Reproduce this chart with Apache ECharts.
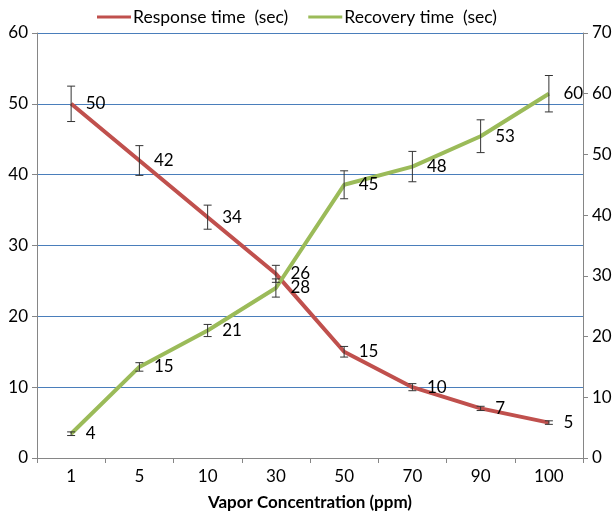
<!DOCTYPE html>
<html><head><meta charset="utf-8">
<script src="https://cdn.jsdelivr.net/npm/echarts@6/dist/echarts.min.js"></script>
<style>html,body{margin:0;padding:0;background:#fff}#c{width:615px;height:516px}</style>
</head><body><div id="c"></div>
<script>
var categories = ['1','5','10','30','50','70','90','100'];
var responseTime = [50,42,34,26,15,10,7,5];
var responseErr = [2.5,2.1,1.7,1.2,0.75,0.5,0.3,0.25];
var recoveryTime = [4,15,21,28,45,48,53,60];
var recoveryErr = [0.3,0.7,1.0,1.5,2.3,2.5,2.7,3.0];
var leftTicks = {min:0,max:60,interval:10};
var rightTicks = {min:0,max:70,interval:10};

var FONT = 'Lato';
function errData(vals, errs){ return vals.map(function(v,i){ return [i, v-errs[i], v+errs[i]]; }); }
function errRender(params, api){
  var x = api.value(0);
  var lo = api.coord([x, api.value(1)]);
  var hi = api.coord([x, api.value(2)]);
  var hw = 4;
  var st = {stroke:'#333', lineWidth:1};
  return {type:'group', children:[
    {type:'line', shape:{x1:lo[0],y1:lo[1],x2:hi[0],y2:hi[1]}, style:st},
    {type:'line', shape:{x1:lo[0]-hw,y1:lo[1],x2:lo[0]+hw,y2:lo[1]}, style:st},
    {type:'line', shape:{x1:hi[0]-hw,y1:hi[1],x2:hi[0]+hw,y2:hi[1]}, style:st}
  ]};
}
var chart = echarts.init(document.getElementById('c'));
var axisLabelStyle = {color:'#000', fontSize:17, fontFamily:FONT};
chart.setOption({
  animation:false,
  textStyle:{fontFamily:FONT},
  legend:{
    top:3, left:92, itemGap:20, itemWidth:34, itemHeight:3, icon:'rect',
    textStyle:{color:'#000', fontSize:17.5, fontFamily:FONT, padding:[0,0,0,-3]},
    data:['Response time  (sec)','Recovery time  (sec)']
  },
  grid:{left:37, right:32, top:33, bottom:52, containLabel:false},
  xAxis:{
    type:'category', data:categories, boundaryGap:true,
    name:'Vapor Concentration (ppm)', nameLocation:'middle', nameGap:36,
    nameTextStyle:{color:'#000', fontSize:17, fontWeight:'bold', fontFamily:FONT},
    axisLine:{lineStyle:{color:'#868686', width:1}},
    axisTick:{show:true, interval:0, length:5, lineStyle:{color:'#868686'}},
    axisLabel:Object.assign({margin:10, interval:0}, axisLabelStyle),
    splitLine:{show:false}
  },
  yAxis:[{
    type:'value', min:leftTicks.min, max:leftTicks.max, interval:leftTicks.interval,
    axisLine:{show:true, lineStyle:{color:'#868686'}},
    axisTick:{show:true, length:5, lineStyle:{color:'#868686'}},
    axisLabel:Object.assign({margin:9}, axisLabelStyle),
    splitLine:{show:true, lineStyle:{color:'#4a7ebb', width:1}}
  },{
    type:'value', min:rightTicks.min, max:rightTicks.max, interval:rightTicks.interval,
    position:'right',
    axisLine:{show:true, lineStyle:{color:'#868686'}},
    axisTick:{show:true, length:5, lineStyle:{color:'#868686'}},
    axisLabel:Object.assign({margin:9}, axisLabelStyle),
    splitLine:{show:false}
  }],
  series:[{
    name:'Response time  (sec)', type:'line', yAxisIndex:0, data:responseTime,
    symbol:'circle', symbolSize:1, itemStyle:{color:'#C0504D'},
    lineStyle:{color:'#C0504D', width:4},
    label:{show:true, position:'right', distance:14, color:'#000', fontSize:17, fontFamily:FONT},
    z:3
  },{
    name:'Recovery time  (sec)', type:'line', yAxisIndex:1, data:recoveryTime,
    symbol:'circle', symbolSize:1, itemStyle:{color:'#9BBB59'},
    lineStyle:{color:'#9BBB59', width:4},
    label:{show:true, position:'right', distance:14, color:'#000', fontSize:17, fontFamily:FONT},
    z:3
  },{
    type:'custom', yAxisIndex:0, data:errData(responseTime, responseErr),
    renderItem:errRender, encode:{x:0, y:[1,2]}, z:4, silent:true
  },{
    type:'custom', yAxisIndex:1, data:errData(recoveryTime, recoveryErr),
    renderItem:errRender, encode:{x:0, y:[1,2]}, z:4, silent:true
  }]
});
</script></body></html>
